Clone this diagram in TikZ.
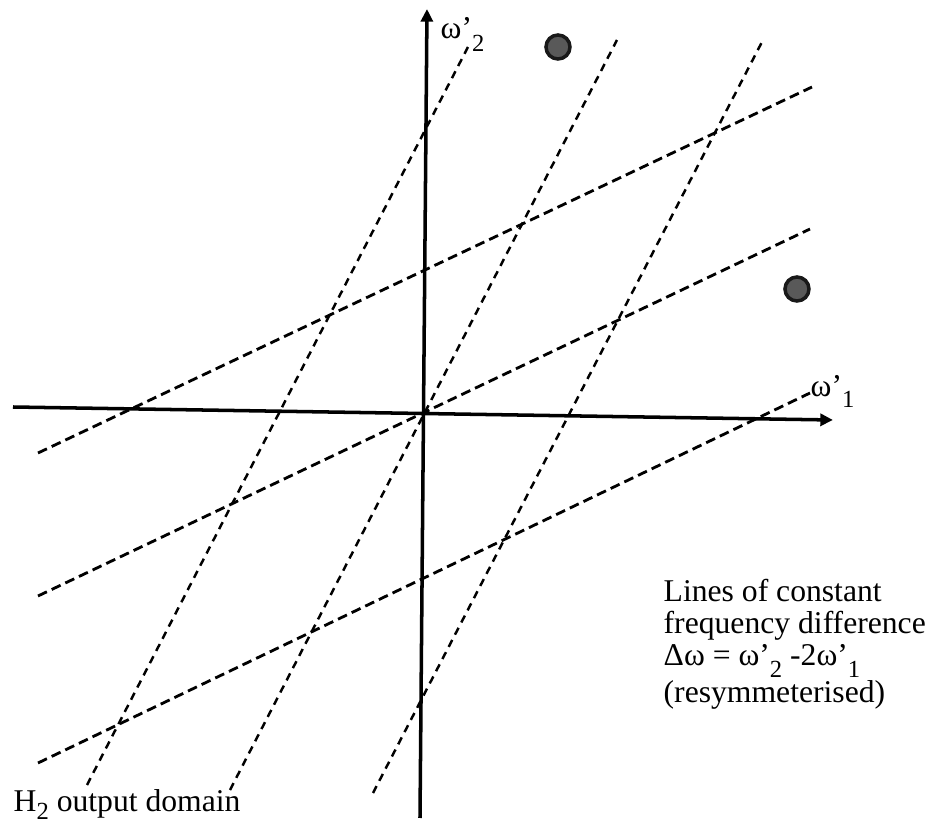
\documentclass[tikz,border=0pt]{standalone}
\usepackage{fontspec}
\setmainfont{Liberation Serif}
\usetikzlibrary{arrows.meta}
\newcommand{\lowidx}[2][0.42em]{\raisebox{-#1}{\fontsize{7}{7}\selectfont #2}}

\begin{document}
\begin{tikzpicture}[x=0.01cm,y=-0.01cm,>={Triangle[length=3.6pt,width=3.4pt]},
  font=\fontsize{9}{9.1}\selectfont,
  axis/.style={line width=1pt},
  steepline/.style={line width=0.7pt,dash pattern=on 2.2pt off 1.7pt},
  flatline/.style={line width=0.8pt,dash pattern=on 2.8pt off 1.5pt},
  peak/.style={circle,draw=black!90,fill=black!65,line width=1pt,minimum size=0.24cm,inner sep=0pt},
  lbl/.style={anchor=base west,inner sep=0pt}]
\useasboundingbox (0,0) rectangle (938,824);
% axes
\coordinate (xs) at (13,407);
\coordinate (xe) at (833,420);
\coordinate (ys) at (420,818);
\coordinate (ye) at (427,9);
\draw[axis,->] (xs) -- (xe);
\draw[axis,->] (ys) -- (ye);
\node[lbl] (w1) at (810,397) {ω’\lowidx[0.33em]{1}};
\node[lbl] (w2) at (440,38) {ω’\lowidx{2}};
% steep lines
\foreach \bx/\by/\tx/\ty [count=\i] in {87/785/468/47, 230/790/617/40, 373/793/763/40}{
  \coordinate (sb\i) at (\bx,\by);
  \coordinate (st\i) at (\tx,\ty);
  \draw[steepline] (sb\i) -- (st\i);
}
% shallow lines
\foreach \lx/\ly/\rx/\ry [count=\i] in {38/453/812/87, 38/596/810/229, 38/763/810/393}{
  \coordinate (fl\i) at (\lx,\ly);
  \coordinate (fr\i) at (\rx,\ry);
  \draw[flatline] (fl\i) -- (fr\i);
}
% peaks
\node[peak] (p1) at (558,47) {};
\node[peak] (p2) at (797,289) {};
% texts (base = last line)
\node[lbl,align=left] (legend) at (663,703) {Lines of constant\\frequency difference\\Δω = ω’\lowidx[0.38em]{2} -2ω’\lowidx[0.38em]{1}\\(resymmeterised)};
\node[lbl] (dom) at (13,812) {H\lowidx[0.25em]{2} output domain};
\end{tikzpicture}
\end{document}
